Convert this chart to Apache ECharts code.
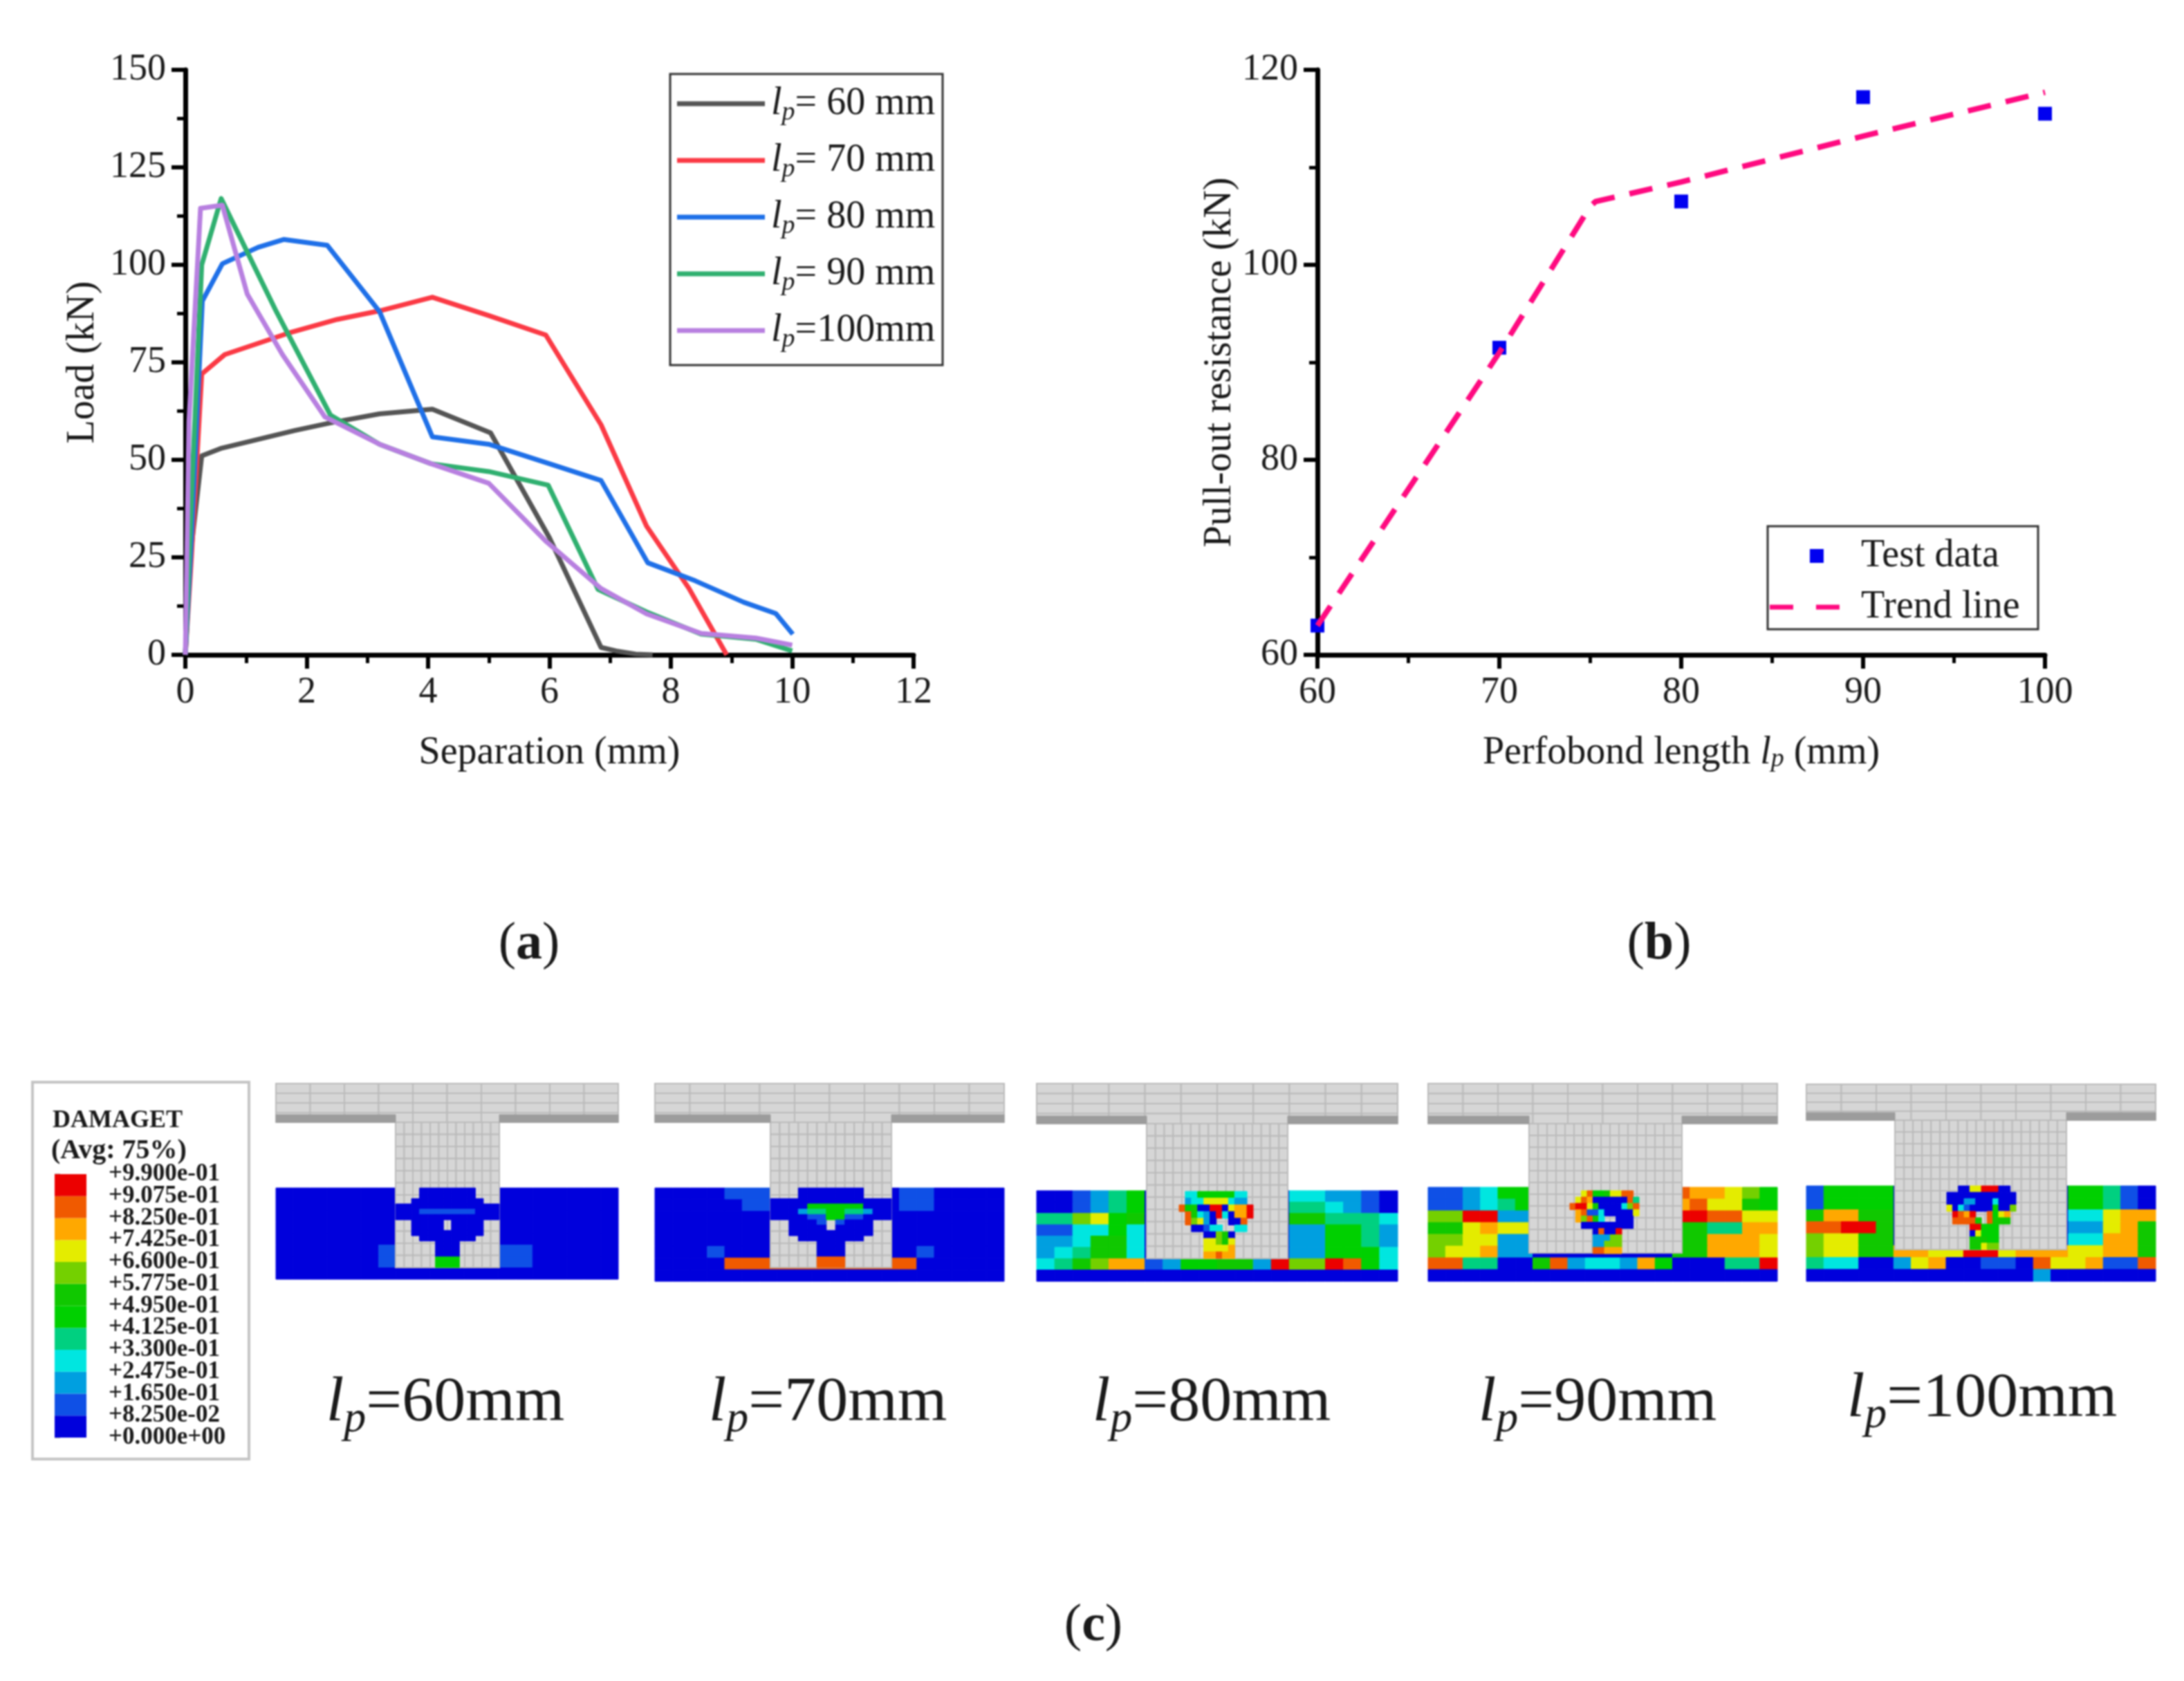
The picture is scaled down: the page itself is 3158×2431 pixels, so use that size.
<!DOCTYPE html>
<html>
<head>
<meta charset="utf-8">
<title>Perfobond pull-out results</title>
<script src="https://cdn.jsdelivr.net/npm/echarts@6/dist/echarts.min.js"></script>
<style>
html, body { margin: 0; padding: 0; background: #fff; }
/* the source figure is a soft, upscaled scan */
#chart { width: 3158px; height: 2431px; filter: blur(1.2px); }
</style>
</head>
<body>
<div id="chart"></div>
<script>
// (a) load against separation
const sep60 = [0, 0.08, 0.27, 0.6, 1.8, 2.4, 3.2, 4.07, 5.03, 6.0, 6.85, 7.1, 7.42, 7.7]
const load60 = [0, 25, 51, 53, 57.5, 59.5, 61.8, 63, 56.9, 30, 1.9, 1, 0.2, 0]
const sep70 = [0, 0.1, 0.27, 0.65, 1.7, 2.5, 3.2, 4.07, 5.0, 5.94, 6.85, 7.6, 8.3, 8.92]
const load70 = [0, 25, 72, 77, 82.5, 86, 88.2, 91.7, 87, 82, 59, 33, 17, 0]
const sep80 = [0, 0.1, 0.28, 0.61, 1.2, 1.62, 2.34, 3.2, 4.07, 5.0, 6.0, 6.85, 7.62, 8.4, 9.2, 9.73, 10.01]
const load80 = [0, 30, 90.7, 100.3, 104.5, 106.5, 105, 88, 55.9, 54, 49, 44.7, 23.6, 19, 13.5, 10.6, 5.3]
const sep90 = [0, 0.1, 0.27, 0.59, 1.5, 2.39, 3.2, 4.05, 5.0, 5.98, 6.8, 7.6, 8.5, 9.4, 10.0]
const load90 = [0, 40, 100, 117, 88, 61.5, 54, 49, 47, 43.5, 16.8, 11, 5.3, 4, 1]
const sep100 = [0, 0.06, 0.25, 0.61, 1.02, 1.6, 2.3, 3.2, 4.05, 5.0, 5.95, 6.85, 7.6, 8.5, 9.4, 10.0]
const load100 = [0, 60, 114.5, 115.3, 92.5, 77, 61, 54, 49, 44, 29, 17, 10.5, 5.5, 4.3, 2.5]
const loadNames = ['lp= 60 mm', 'lp= 70 mm', 'lp= 80 mm', 'lp= 90 mm', 'lp=100mm']
const loadColors = ['#555555', '#fb3a45', '#1f70e8', '#30b070', '#b880e0']

// (b) pull-out resistance against perfobond length
const testLength = [60, 70, 80, 90, 100]
const testResistance = [63, 91.5, 106.5, 117.2, 115.5]
const trendLength = [60, 70, 75, 75.3, 80, 90, 100]
const trendResistance = [63, 91, 106, 106.5, 108.5, 113.2, 117.7]

// (c) DAMAGET contour legend, bottom to top
const damageLabels = ['+0.000e+00', '+8.250e-02', '+1.650e-01', '+2.475e-01', '+3.300e-01', '+4.125e-01', '+4.950e-01',
  '+5.775e-01', '+6.600e-01', '+7.425e-01', '+8.250e-01', '+9.075e-01', '+9.900e-01']
const damageLevels = [0, 1, 2, 3, 4, 5, 6, 7, 8, 9, 10, 11]
const damageColors = ['#0000dc', '#0f50e6', '#009fe0', '#00e6e0', '#00d080', '#00d000', '#10c800', '#74d000', '#e4ec00', '#ffa800', '#f05a00', '#ec0000']

// level of each concrete element, one hex digit per cell, rows top to bottom
const block60 = ['00000000000000000000', '00000000000000000000', '00000000000000000000', '00000000000000000000',
  '00000000000000000000', '00000010000001100000', '00000010000001100000', '00000000000000000000']
const block70 = ['00001110000000110000', '00000110000000110000', '00000000000000000000', '00000000000000000000',
  '00000000000000000000', '00010000000000010000', '0000aaaaaaaaaaa00000', '00000000000000000000']
const block80 = ['00124500000000332210', '00124500000000443210', '44785600000000664443', '11335300000000225542',
  '22366300000000225542', '23466300000000225553', '34679912556' + '62b77ba53', '00000000000000000000']
const block90 = ['11235500000000a99875', '112345000000009a8865', '77bb2200000000bbaa88', '66898800000000664499',
  '77882200000000669998', '78892200000000669998', 'aa44006a23329500044b', '00000000000000000000']
const block100 = ['15555000000000055410', '15555000000000055410', '69966000000000033899', 'aabb6000000000022896',
  '78866000000000033996', '78866998' + '8bb899988996', '43300289001' + '10a88911a', '00000000000002000000']

// level of the dowel and neck cast in the hole, '.' leaves the steel showing
const dowel60 = ['...0000000...', '...0000000...', '..000000000..', '0000000000000', '0001111111000', '0000000000000',
  '..0000.0000..', '..0000.0000..', '..000000000..', '...0000000...', '.....000.....', '.....000.....', '.....000.....',
  '.....555.....', '.....555.....']
const dowel70 = ['...0000000...', '...0000000...', '0000000000000', '0000555555000', '0002445544200', '0000115511000',
  '..0001.1000..', '..0000.0000..', '..000000000..', '...0000000...', '.....000.....', '.....000.....', '.....000.....',
  '.....aaa.....', '.....aaa.....']
const dowel80 = ['.3355555533.', '.2338888322.', 'a5600bb0899b', '.a6320b3099b', '.a7820..00a.', '..00133..33.',
  '....00760...', '....88768...', '....88889...', '....99a99...']
const dowel90 = ['..8a55688aa.', '.8a9000000a4', 'abb86000037a', '.9a113000008', '.97a63..000.', '..000000000.',
  '....0a00b...', '....22277...', '....22777...', '....aa999...']
const dowel100 = ['..0088bbb00.', '000000000000', '000220003000', '803100005007', '.ba9b..a589.', '.aaaa6.a666.',
  '....bb555...', '....08555...', '....66655...', '....66877...']

const panelLabels = ['60mm', '70mm', '80mm', '90mm', '100mm']
const panelBlocks = [block60, block70, block80, block90, block100]
const panelDowels = [dowel60, dowel70, dowel80, dowel90, dowel100]

const serif = '"Liberation Serif", "Times New Roman", serif'
const textColor = '#1a1a1a'

// page pixel boxes of the five finite element views
const panels = [
  { l: 399, r: 894, t: 1567, b: 1850, flangeB: 1623, webL: 572, webR: 722, webB: 1833, blockT: 1718, dowel: [572, 722, 1718, 1833], labelX: 644, labelY: 2030 },
  { l: 947, r: 1452, t: 1567, b: 1853, flangeB: 1623, webL: 1114, webR: 1289, webB: 1833, blockT: 1718, dowel: [1114, 1289, 1718, 1833], labelX: 1197, labelY: 2030 },
  { l: 1499, r: 2021, t: 1567, b: 1853, flangeB: 1625, webL: 1658, webR: 1862, webB: 1820, blockT: 1722, dowel: [1705, 1812, 1723, 1820], labelX: 1752, labelY: 2030 },
  { l: 2065, r: 2570, t: 1567, b: 1853, flangeB: 1625, webL: 2211, webR: 2432, webB: 1812, blockT: 1717, dowel: [2270, 2370, 1722, 1813], labelX: 2310, labelY: 2030 },
  { l: 2612, r: 3117, t: 1568, b: 1853, flangeB: 1620, webL: 2740, webR: 2988, webB: 1807, blockT: 1715, dowel: [2815, 2915, 1715, 1807], labelX: 2866, labelY: 2024 }
]

const MESH = 12
const EDGE = 13

function pairs(xs, ys) {
  return xs.map((x, i) => [x, ys[i]])
}

// rectangles [x0, y0, x1, y1, level] for one view, painted in this order
function panelRects(p, block, dowel) {
  const rects = []
  const bw = (p.r - p.l) / block[0].length
  const bh = (p.b - p.blockT) / block.length
  block.forEach((row, r) => {
    row.split('').forEach((ch, c) => {
      rects.push([p.l + c * bw, p.blockT + r * bh, p.l + (c + 1) * bw, p.blockT + (r + 1) * bh, parseInt(ch, 16)])
    })
  })
  const webCols = Math.round((p.webR - p.webL) / 13)
  const webRows = Math.round((p.webB - p.flangeB) / 17)
  for (let r = 0; r < webRows; r++) {
    for (let c = 0; c < webCols; c++) {
      rects.push([p.webL + c * (p.webR - p.webL) / webCols, p.flangeB + r * (p.webB - p.flangeB) / webRows,
        p.webL + (c + 1) * (p.webR - p.webL) / webCols, p.flangeB + (r + 1) * (p.webB - p.flangeB) / webRows, MESH])
    }
  }
  for (let r = 0; r < 4; r++) {
    for (let c = 0; c < 10; c++) {
      rects.push([p.l + c * (p.r - p.l) / 10, p.t + r * (p.flangeB - p.t) / 4,
        p.l + (c + 1) * (p.r - p.l) / 10, p.t + (r + 1) * (p.flangeB - p.t) / 4, MESH])
    }
  }
  rects.push([p.l, p.flangeB - 11, p.webL, p.flangeB, EDGE])
  rects.push([p.webR, p.flangeB - 11, p.r, p.flangeB, EDGE])
  const dw = (p.dowel[1] - p.dowel[0]) / dowel[0].length
  const dh = (p.dowel[3] - p.dowel[2]) / dowel.length
  dowel.forEach((row, r) => {
    row.split('').forEach((ch, c) => {
      if (ch === '.') return
      rects.push([p.dowel[0] + c * dw, p.dowel[2] + r * dh, p.dowel[0] + (c + 1) * dw, p.dowel[2] + (r + 1) * dh, parseInt(ch, 16)])
    })
  })
  return rects
}

function renderPanelRect(params, api) {
  const a = api.coord([api.value(0), api.value(1)])
  const b = api.coord([api.value(2), api.value(3)])
  const level = api.value(4)
  let fill = damageColors[level]
  let stroke = fill
  let lineWidth = 1
  if (level === MESH) {
    fill = '#d6d6d6'
    stroke = '#bababa'
    lineWidth = 2
  } else if (level === EDGE) {
    fill = '#9c9c9c'
    stroke = '#9c9c9c'
  }
  return {
    type: 'rect',
    shape: { x: a[0], y: a[1], width: b[0] - a[0], height: b[1] - a[1] },
    style: { fill: fill, stroke: stroke, lineWidth: lineWidth }
  }
}

function renderColorbar(params, api) {
  const a = api.coord([0, api.value(0) + 1])
  const b = api.coord([1, api.value(0)])
  return {
    type: 'rect',
    shape: { x: a[0], y: a[1], width: b[0] - a[0], height: b[1] - a[1] },
    style: { fill: damageColors[api.value(0)] }
  }
}

// the axis drops labels next to its ends at this spacing, so they are drawn here
function renderColorbarLabel(params, api) {
  const p = api.coord([1, api.value(0)])
  return {
    type: 'text',
    style: {
      x: p[0] + 32,
      y: p[1],
      text: damageLabels[api.value(0)],
      verticalAlign: 'middle',
      fontFamily: serif,
      fontSize: 35,
      fontWeight: 'bold',
      fill: textColor
    }
  }
}

function plotAxis(min, max, interval, name, gap) {
  return {
    type: 'value',
    min: min,
    max: max,
    interval: interval,
    name: name,
    nameLocation: 'middle',
    nameGap: gap,
    nameTextStyle: {
      fontFamily: serif,
      fontSize: 56,
      color: textColor,
      rich: {
        t: { fontFamily: serif, fontSize: 56, color: textColor },
        i: { fontFamily: serif, fontSize: 56, fontStyle: 'italic', color: textColor },
        s: { fontFamily: serif, fontSize: 38, fontStyle: 'italic', color: textColor, verticalAlign: 'bottom', lineHeight: 44, padding: [22, 0, 0, 0] }
      }
    },
    axisLine: { show: true, onZero: false, lineStyle: { color: '#000', width: 7 } },
    axisTick: { show: true, length: 20, lineStyle: { color: '#000', width: 6 } },
    minorTick: { show: true, splitNumber: 2, length: 12, lineStyle: { color: '#000', width: 5 } },
    axisLabel: { fontFamily: serif, fontSize: 54, color: textColor, margin: 28 },
    splitLine: { show: false }
  }
}

const legendRich = {
  t: { fontFamily: serif, fontSize: 56, color: textColor, lineHeight: 58 },
  i: { fontFamily: serif, fontSize: 56, fontStyle: 'italic', color: textColor, padding: [0, 0, 0, 4], lineHeight: 58 },
  s: { fontFamily: serif, fontSize: 38, fontStyle: 'italic', color: textColor, padding: [26, 0, 0, 0], lineHeight: 58 }
}

const grids = [
  { left: 268, top: 101, width: 1053, height: 846 },
  { left: 1905, top: 101, width: 1052, height: 846 },
  { left: 79, top: 1698, width: 46, height: 381 }
]
const xAxes = [
  plotAxis(0, 12, 2, 'Separation (mm)', 114),
  Object.assign(plotAxis(60, 100, 10, '{t|Perfobond length }{i|l}{s|p}{t| (mm)}', 114), { gridIndex: 1 }),
  { gridIndex: 2, type: 'value', min: 0, max: 1, show: false }
]
const yAxes = [
  plotAxis(0, 150, 25, 'Load (kN)', 120),
  Object.assign(plotAxis(60, 120, 20, 'Pull-out resistance (kN)', 112), { gridIndex: 1 }),
  {
    gridIndex: 2,
    type: 'value',
    position: 'right',
    min: 0,
    max: 12,
    interval: 1,
    axisLine: { show: false },
    axisTick: { show: true, length: 8, lineStyle: { color: '#bbb', width: 2 } },
    axisLabel: { show: false },
    splitLine: { show: false }
  }
]

const loadXs = [sep60, sep70, sep80, sep90, sep100]
const loadYs = [load60, load70, load80, load90, load100]
const series = loadNames.map((name, i) => ({
  name: name,
  type: 'line',
  xAxisIndex: 0,
  yAxisIndex: 0,
  showSymbol: false,
  symbol: 'none',
  clip: false,
  data: pairs(loadXs[i], loadYs[i]),
  lineStyle: { color: loadColors[i], width: 7, join: 'round' },
  itemStyle: { color: loadColors[i] }
}))

series.push({
  name: 'Trend line',
  type: 'line',
  xAxisIndex: 1,
  yAxisIndex: 1,
  symbol: 'none',
  clip: false,
  z: 3,
  data: pairs(trendLength, trendResistance),
  lineStyle: { color: '#ff0a80', width: 8, type: [34, 22] },
  itemStyle: { color: '#ff0a80' }
})
series.push({
  name: 'Test data',
  type: 'scatter',
  xAxisIndex: 1,
  yAxisIndex: 1,
  symbol: 'rect',
  symbolSize: 20,
  clip: false,
  z: 2,
  data: pairs(testLength, testResistance),
  itemStyle: { color: '#0000f0', opacity: 1 }
})
series.push({
  type: 'custom',
  xAxisIndex: 2,
  yAxisIndex: 2,
  silent: true,
  data: damageLevels.map(v => [v]),
  encode: { y: 0 },
  renderItem: renderColorbar
})
series.push({
  type: 'custom',
  xAxisIndex: 2,
  yAxisIndex: 2,
  silent: true,
  clip: false,
  data: damageLabels.map((label, i) => [i]),
  encode: { y: 0 },
  renderItem: renderColorbarLabel
})

panels.forEach((p, i) => {
  grids.push({ left: p.l, top: p.t, width: p.r - p.l, height: p.b - p.t })
  xAxes.push({ gridIndex: i + 3, type: 'value', min: p.l, max: p.r, show: false })
  yAxes.push({ gridIndex: i + 3, type: 'value', min: p.t, max: p.b, inverse: true, show: false })
  series.push({
    type: 'custom',
    xAxisIndex: i + 3,
    yAxisIndex: i + 3,
    silent: true,
    clip: false,
    animation: false,
    data: panelRects(p, panelBlocks[i], panelDowels[i]),
    encode: { x: [0, 2], y: [1, 3] },
    renderItem: renderPanelRect
  })
})

const caption = (x, y, letter) => ({
  type: 'text',
  style: {
    x: x,
    y: y,
    align: 'center',
    verticalAlign: 'middle',
    text: '{t|(}{b|' + letter + '}{t|)}',
    rich: {
      t: { fontFamily: serif, fontSize: 76, fill: textColor },
      b: { fontFamily: serif, fontSize: 76, fontWeight: 'bold', fill: textColor }
    }
  }
})

const frame = (x, y, w, h, color, width) => ({
  type: 'rect',
  shape: { x: x, y: y, width: w, height: h },
  style: { fill: 'transparent', stroke: color, lineWidth: width }
})

const graphics = [
  frame(969, 107, 394, 421, '#333', 3),
  frame(2556, 761, 391, 149, '#333', 3),
  frame(47, 1565, 313, 545, '#c4c4c4', 4),
  caption(765, 1366, 'a'),
  caption(2399, 1366, 'b'),
  caption(1581, 2352, 'c'),
  { type: 'text', style: { x: 76, y: 1621, text: 'DAMAGET', fontFamily: serif, fontSize: 36, fontWeight: 'bold', fill: textColor, verticalAlign: 'middle' } },
  { type: 'text', style: { x: 74, y: 1665, text: '(Avg: 75%)', fontFamily: serif, fontSize: 40, fontWeight: 'bold', fill: textColor, verticalAlign: 'middle' } }
]
panels.forEach((p, i) => {
  graphics.push({
    type: 'text',
    style: {
      x: p.labelX,
      y: p.labelY,
      align: 'center',
      verticalAlign: 'middle',
      text: '{i|l}{s|p}{t|=' + panelLabels[i] + '}',
      rich: {
        t: { fontFamily: serif, fontSize: 92, fill: textColor },
        i: { fontFamily: serif, fontSize: 92, fontStyle: 'italic', fill: textColor },
        s: { fontFamily: serif, fontSize: 64, fontStyle: 'italic', fill: textColor, padding: [46, 0, 0, 0] }
      }
    }
  })
})

const chart = echarts.init(document.getElementById('chart'))
chart.setOption({
  backgroundColor: '#fff',
  animation: false,
  grid: grids,
  xAxis: xAxes,
  yAxis: yAxes,
  legend: [
    {
      data: loadNames,
      orient: 'vertical',
      left: 979,
      top: 118,
      padding: 0,
      icon: 'rect',
      itemWidth: 127,
      itemHeight: 7,
      itemGap: 18,
      selectedMode: false,
      formatter: name => '{i|l}{s|p}{t|' + name.slice(2) + '}',
      textStyle: { fontFamily: serif, fontSize: 56, color: textColor, rich: legendRich }
    },
    {
      data: [
        { name: 'Test data', icon: 'path://M0 0h.1v.1h-.1zM58 0h20v20h-20zM111 19.9h.1v.1h-.1z' },
        { name: 'Trend line', icon: 'path://M0 0h.1v.1h-.1zM0 6.5h34v7h-34zM67 6.5h34v7h-34zM111 19.9h.1v.1h-.1z' }
      ],
      orient: 'vertical',
      left: 2559,
      top: 776,
      padding: 0,
      itemWidth: 111,
      itemHeight: 20,
      itemGap: 18,
      selectedMode: false,
      textStyle: { fontFamily: serif, fontSize: 56, color: textColor, padding: [0, 0, 0, 16] }
    }
  ],
  graphic: graphics,
  series: series
})
</script>
</body>
</html>
